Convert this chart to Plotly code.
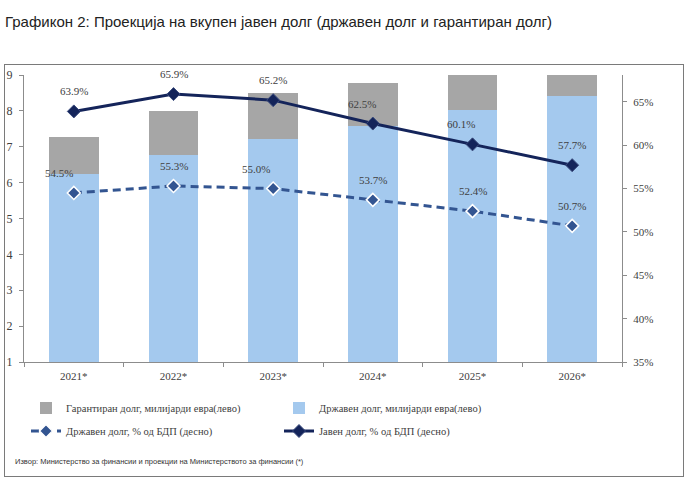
import plotly.graph_objects as go

# ---- data ----
years = ["2021*", "2022*", "2023*", "2024*", "2025*", "2026*"]
state_debt_bn = [6.23, 6.77, 7.21, 7.58, 8.02, 8.41]        # Државен долг, милијарди евра
guaranteed_debt_bn = [1.03, 1.23, 1.30, 1.20, 1.25, 1.30]   # Гарантиран долг, милијарди евра
state_debt_pct = [54.5, 55.3, 55.0, 53.7, 52.4, 50.7]       # Државен долг, % од БДП
public_debt_pct = [63.9, 65.9, 65.2, 62.5, 60.1, 57.7]      # Јавен долг, % од БДП

left_ticks = [1, 2, 3, 4, 5, 6, 7, 8, 9]
right_ticks = [35, 40, 45, 50, 55, 60, 65]
right_tick_text = [f"{v}%" for v in right_ticks]

title_text = "Графикон 2: Проекција на вкупен јавен долг (државен долг и гарантиран долг)"
source_text = "Извор: Министерство за финансии и проекции на Министерството за финансии (*)"

# ---- styles ----
SERIF = "Liberation Serif, Times New Roman, serif"
SANS = "Liberation Sans, Arial, sans-serif"
BLUE_BAR = "#A4C9EE"
GRAY_BAR = "#A6A6A6"
NAVY = "#14245A"
DASH_BLUE = "#335591"
AXIS_COL = "#8C8C8C"
TXT = "#404040"

# horizontal offsets (px) of value labels
state_lbl_dx = [-15, 0, -17, 0, 0, 0]
public_lbl_dx = [0, 0, 0, -11, -12, 0]

fig = go.Figure()

fig.add_trace(go.Bar(
    x=years, y=state_debt_bn, name="Државен долг, милијарди евра(лево)",
    marker=dict(color=BLUE_BAR, line=dict(width=0)), width=0.5, legend="legend", legendrank=2,
))
fig.add_trace(go.Bar(
    x=years, y=guaranteed_debt_bn, name="Гарантиран долг, милијарди евра(лево)",
    marker=dict(color=GRAY_BAR, line=dict(width=0)), width=0.5, legend="legend", legendrank=1,
))
fig.add_trace(go.Scatter(
    x=years, y=state_debt_pct, yaxis="y2", mode="lines+markers",
    name="Државен долг, % од БДП (десно)",
    line=dict(color=DASH_BLUE, width=3, dash="8px,5px"),
    marker=dict(symbol="diamond", size=10, color=DASH_BLUE, line=dict(color="white", width=1.5)),
    legend="legend2", legendrank=3,
))
fig.add_trace(go.Scatter(
    x=years, y=public_debt_pct, yaxis="y2", mode="lines+markers",
    name="Јавен долг, % од БДП (десно)",
    line=dict(color=NAVY, width=3),
    marker=dict(symbol="diamond", size=10, color=NAVY, line=dict(color="#3B4C7E", width=1)),
    legend="legend2", legendrank=4,
))

# outer frame as an empty bordered annotation box (pixel geometry -> paper coords)
frame_left, frame_right, frame_top, frame_bottom = 3.5, 683.5, 63.5, 476.5
annotations = [dict(
    x=((frame_left + frame_right) / 2 - 24) / 598, y=(362 - (frame_top + frame_bottom) / 2) / 287,
    xref="paper", yref="paper", xanchor="center", yanchor="middle", showarrow=False,
    text=" ", width=frame_right - frame_left - 2, height=frame_bottom - frame_top - 2,
    borderpad=0, bordercolor="#7A7A7A", borderwidth=1, bgcolor="rgba(0,0,0,0)",
)]
for i, y in enumerate(years):
    annotations.append(dict(x=y, y=state_debt_pct[i], xref="x", yref="y2",
                            text=f"{state_debt_pct[i]:.1f}%", showarrow=False,
                            yshift=20, xshift=state_lbl_dx[i],
                            font=dict(family=SERIF, size=11, color=TXT)))
    annotations.append(dict(x=y, y=public_debt_pct[i], xref="x", yref="y2",
                            text=f"{public_debt_pct[i]:.1f}%", showarrow=False,
                            yshift=20, xshift=public_lbl_dx[i],
                            font=dict(family=SERIF, size=11, color=TXT)))

annotations.append(dict(x=(13 - 24) / 598, y=-0.345, xref="paper", yref="paper",
                        xanchor="left", yanchor="middle", showarrow=False,
                        text=source_text, font=dict(family=SANS, size=7.5, color="#333333")))

legend_common = dict(orientation="h", xanchor="left", yanchor="middle",
                     entrywidth=208, entrywidthmode="pixels", traceorder="normal",
                     font=dict(family=SERIF, size=10.5, color=TXT), bgcolor="rgba(0,0,0,0)")

fig.update_layout(
    width=692, height=478,
    margin=dict(l=24, r=70, t=75, b=116),
    paper_bgcolor="white", plot_bgcolor="white",
    barmode="stack", bargap=0.5,
    title=dict(text=title_text, x=5 / 692, y=1 - 22 / 478, xref="container", yref="container",
               xanchor="left", yanchor="middle",
               font=dict(family=SANS, size=15, color="#222222")),
    xaxis=dict(type="category", range=[-0.5, 5.5], showline=True, linecolor=AXIS_COL, linewidth=1,
               ticks="outside", tickson="boundaries", ticklen=4, tickcolor=AXIS_COL,
               ticklabelstandoff=4, automargin=False,
               showgrid=False, tickfont=dict(family=SERIF, size=11, color=TXT)),
    yaxis=dict(range=[1, 9], tickvals=left_ticks, showline=True, linecolor=AXIS_COL, linewidth=1,
               ticks="outside", ticklen=4, tickcolor=AXIS_COL, showgrid=False, zeroline=False,
               ticklabelstandoff=4, automargin=False,
               tickfont=dict(family=SERIF, size=12, color=TXT)),
    yaxis2=dict(overlaying="y", side="right", range=[35, 68.1], tickmode="array",
                tickvals=right_ticks, ticktext=right_tick_text,
                showline=True, linecolor=AXIS_COL, linewidth=1,
                ticks="outside", ticklen=4, tickcolor=AXIS_COL, showgrid=False, zeroline=False,
                ticklabelstandoff=4, automargin=False,
                tickfont=dict(family=SERIF, size=11, color=TXT)),
    legend=dict(x=2 / 598, y=(362 - 408) / 287, **legend_common),
    legend2=dict(x=2 / 598, y=(362 - 431) / 287, **legend_common),
    annotations=annotations,
    showlegend=True,
)

fig.write_html("out.html", config={"displayModeBar": False},
               post_script="document.body.style.margin='0px';document.body.style.overflow='hidden';")
